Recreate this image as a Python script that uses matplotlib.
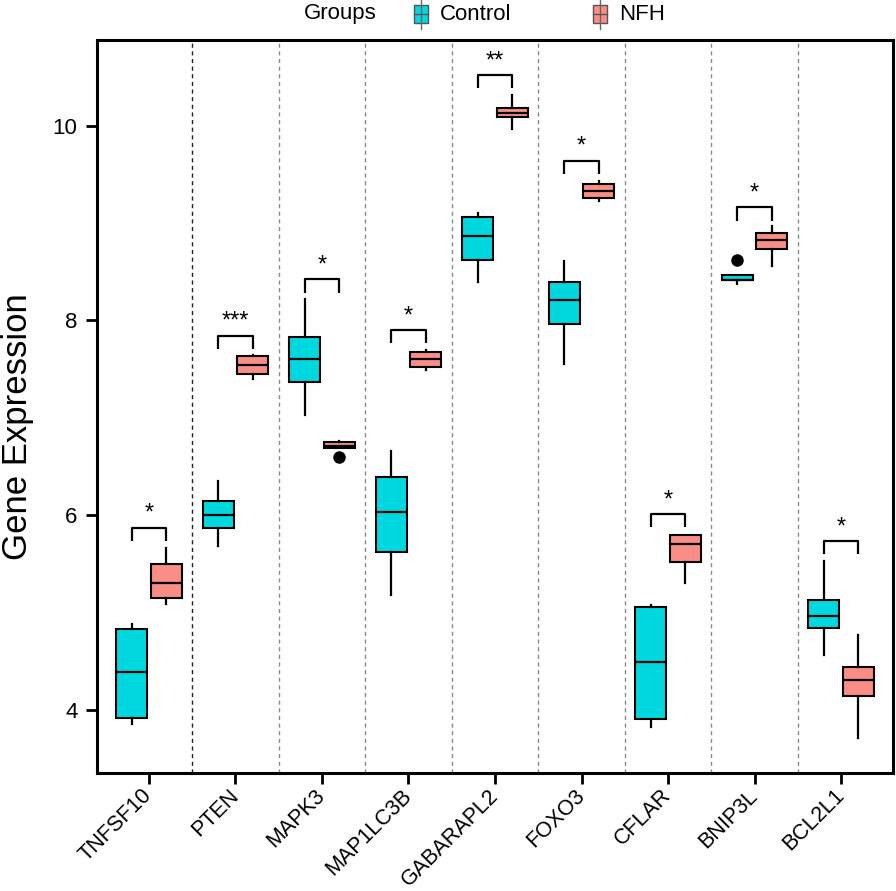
import matplotlib
matplotlib.use("Agg")
import matplotlib.pyplot as plt
from matplotlib.patches import Rectangle
from matplotlib.lines import Line2D

plt.rcParams['font.family'] = ['Liberation Sans', 'DejaVu Sans']

genes = ["TNFSF10", "PTEN", "MAPK3", "MAP1LC3B", "GABARAPL2", "FOXO3", "CFLAR", "BNIP3L", "BCL2L1"]

control_whislo = [3.85, 5.68, 7.03, 5.18, 8.39, 7.55, 3.82, 8.37, 4.56]
control_q1     = [3.92, 5.87, 7.37, 5.62, 8.62, 7.96, 3.90, 8.41, 4.84]
control_med    = [4.39, 6.00, 7.60, 6.03, 8.87, 8.21, 4.49, 8.41, 4.96]
control_q3     = [4.83, 6.14, 7.83, 6.39, 9.06, 8.39, 5.06, 8.47, 5.13]
control_whishi = [4.88, 6.35, 8.22, 6.66, 9.10, 8.61, 5.08, 8.47, 5.53]
control_fliers = [[], [], [], [], [], [], [], [8.62], []]

nfh_whislo = [5.09, 7.40, 6.69, 7.49, 9.97, 9.23, 5.30, 8.56, 3.71]
nfh_q1     = [5.15, 7.45, 6.69, 7.52, 10.09, 9.26, 5.52, 8.73, 4.14]
nfh_med    = [5.30, 7.54, 6.71, 7.60, 10.13, 9.33, 5.70, 8.83, 4.31]
nfh_q3     = [5.50, 7.63, 6.75, 7.67, 10.18, 9.40, 5.80, 8.90, 4.44]
nfh_whishi = [5.66, 7.64, 6.76, 7.70, 10.32, 9.43, 5.80, 8.97, 4.77]
nfh_fliers = [[], [], [6.60], [], [], [], [], [], []]

bracket_top = [5.87, 7.84, 8.42, 7.90, 10.52, 9.64, 6.01, 9.16, 5.73]
signif = ["*", "***", "*", "*", "**", "*", "*", "*", "*"]

ctrl_color = "#00D8DF"
nfh_color = "#FA8E86"

fig = plt.figure(figsize=(8.96, 8.91), dpi=100)
ax = fig.add_axes([97/896, 118/891, 796/896, 733/891])

def stats(wl, q1, md, q3, wh, fl):
    return [dict(whislo=a, q1=b, med=c, q3=d, whishi=e, fliers=f)
            for a, b, c, d, e, f in zip(wl, q1, md, q3, wh, fl)]

pos = list(range(1, len(genes) + 1))
off = 0.2
bw = 0.36
common = dict(widths=bw, patch_artist=True, showcaps=False,
              whiskerprops=dict(color='black', lw=1.6),
              medianprops=dict(color='black', lw=1.6),
              flierprops=dict(marker='o', markerfacecolor='black', markeredgecolor='black', markersize=8))
for st, color, sgn in [(stats(control_whislo, control_q1, control_med, control_q3, control_whishi, control_fliers), ctrl_color, -1),
                       (stats(nfh_whislo, nfh_q1, nfh_med, nfh_q3, nfh_whishi, nfh_fliers), nfh_color, 1)]:
    ax.bxp(st, positions=[p + sgn * off for p in pos],
           boxprops=dict(facecolor=color, edgecolor='black', lw=1.5), **common)

# separators
for i in range(1, len(genes)):
    ax.axvline(i + 0.5, color='#222222' if i == 1 else '#8a8a8a', lw=1.0, ls=(0, (3, 2.5)), zorder=0)

# significance brackets
drop = 0.135
for p, top, s in zip(pos, bracket_top, signif):
    x0, x1 = p - off, p + off
    ax.plot([x0, x0, x1, x1], [top - drop, top, top, top - drop], color='black', lw=1.6, solid_capstyle='butt')
    ax.text(p, top + 0.03, s, ha='center', va='bottom', fontsize=17)

ax.set_xlim(0.4, len(genes) + 0.6)
ax.set_ylim(3.35, 10.88)
ax.set_yticks([4, 6, 8, 10])
ax.set_xticks(pos)
ax.set_xticklabels(genes, rotation=45, ha='right', va='center', rotation_mode='anchor', fontsize=15.5)
ax.tick_params(axis='y', labelsize=16, length=8, width=2, pad=6)
ax.tick_params(axis='x', length=8, width=2, pad=6)
for sp in ax.spines.values():
    sp.set_linewidth(2.2)
fig.text(18/896, 1 - 427/891, "Gene Expression", rotation=90, ha='center', va='center', fontsize=25)

# legend at top
ly = 1 - 14/891
fig.text(340/896, ly, "Groups", ha='center', va='center', fontsize=16)
def icon(xc, yc, color):
    w, h = 14/896, 17/891
    fig.add_artist(Line2D([xc, xc], [yc - 15/891, yc + 15/891], transform=fig.transFigure, color='#666666', lw=1.0))
    fig.add_artist(Rectangle((xc - w/2, yc - h/2), w, h, transform=fig.transFigure,
                             facecolor=color, edgecolor='#555555', lw=1.0))
    fig.add_artist(Line2D([xc - w/2, xc + w/2], [yc, yc], transform=fig.transFigure, color='#555555', lw=1.0))
icon(421/896, ly, ctrl_color)
fig.text(440/896, ly, "Control", ha='left', va='center', fontsize=16)
icon(600/896, ly, nfh_color)
fig.text(619/896, ly, "NFH", ha='left', va='center', fontsize=16)

fig.savefig("out.png", dpi=100)
